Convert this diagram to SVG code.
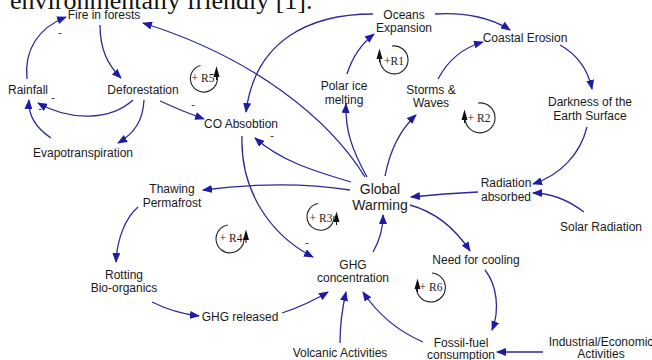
<svg xmlns="http://www.w3.org/2000/svg" width="652" height="360" viewBox="0 0 652 360">
<style>
  .lbl { font-family: "Liberation Sans", Arial, sans-serif; font-size: 12px; fill: #1a1a1a; text-anchor: middle; }
  .big { font-family: "Liberation Sans", Arial, sans-serif; font-size: 14px; fill: #1a1a1a; text-anchor: middle; }
  .sign { font-family: "Liberation Sans", Arial, sans-serif; font-size: 11px; fill: #1a1a1a; text-anchor: middle; }
  .loop { font-family: "Liberation Serif", "Times New Roman", serif; font-size: 11.5px; fill: #1a1a1a; text-anchor: middle; }
  .ring { fill: none; stroke: #222; stroke-width: 1.1; }
  .tip { fill: #111; }
  .edge { fill: none; stroke: #2a2a9c; stroke-width: 1.3; marker-end: url(#ah); }
</style>
<defs>
  <marker id="ah" viewBox="0 0 10 8" refX="9" refY="4" markerWidth="10" markerHeight="8" markerUnits="userSpaceOnUse" orient="auto">
    <path d="M0,0 L10,4 L0,8 Z" fill="#1c1ca8"/>
  </marker>
</defs>
<rect width="652" height="360" fill="#ffffff"/>
<text x="10" y="8.5" font-family="Liberation Serif, 'Times New Roman', serif" font-size="26" fill="#111">environmentally friendly [1].</text>

<g id="connectors">
  <path class="edge" d="M27,79 C24,50 38,28 66,17"/>
  <path class="edge" d="M100,25 C100,50 108,65 121,78"/>
  <path class="edge" d="M133,100 C110,121 70,121 38,103"/>
  <path class="edge" d="M144,100 C143,120 135,133 118,143"/>
  <path class="edge" d="M51,138 C36,128 28,115 29,100"/>
  <path class="edge" d="M160,101 C175,108 190,114 204,119"/>
  <path class="edge" d="M365,177 C330,120 255,58 143,23"/>
  <path class="edge" d="M373,14 C310,14 255,40 246,112"/>
  <path class="edge" d="M347,74 C352,58 360,45 374,34"/>
  <path class="edge" d="M435,14 C465,12 492,18 510,30"/>
  <path class="edge" d="M438,79 C448,60 462,48 483,42"/>
  <path class="edge" d="M560,45 C578,55 588,70 592,89"/>
  <path class="edge" d="M587,127 C580,155 560,175 533,184"/>
  <path class="edge" d="M584,212 C568,200 552,193 533,193"/>
  <path class="edge" d="M478,192 C455,193 430,195 411,197"/>
  <path class="edge" d="M410,205 C435,212 455,228 470,251"/>
  <path class="edge" d="M485,270 C497,285 500,310 492,330"/>
  <path class="edge" d="M543,352 L497,352"/>
  <path class="edge" d="M423,342 C395,330 375,310 363,292"/>
  <path class="edge" d="M340,343 C340,320 343,305 346,292"/>
  <path class="edge" d="M282,313 C300,307 315,300 328,292"/>
  <path class="edge" d="M152,302 C168,310 182,314 199,316"/>
  <path class="edge" d="M138,207 C125,218 117,240 116,262"/>
  <path class="edge" d="M350,190 C300,182 250,184 203,190"/>
  <path class="edge" d="M373,252 C380,240 383,228 383,215"/>
  <path class="edge" d="M242,136 C240,190 270,235 313,257"/>
  <path class="edge" d="M351,182 C310,170 280,160 255,138"/>
  <path class="edge" d="M367,177 C352,150 345,130 346,104"/>
  <path class="edge" d="M385,176 C390,150 400,130 416,115"/>
  <text class="sign" x="60" y="36">-</text>
  <text class="sign" x="53" y="101">-</text>
  <text class="sign" x="40" y="112">-</text>
  <text class="sign" x="193" y="108">-</text>
  <text class="sign" x="272" y="139">-</text>
  <text class="sign" x="307" y="246">-</text>
</g>

<g id="fire"><text class="lbl" x="104" y="19">Fire in forests</text></g>
<g id="rainfall"><text class="lbl" x="28" y="94">Rainfall</text></g>
<g id="deforestation"><text class="lbl" x="143" y="94">Deforestation</text></g>
<g id="evapotranspiration"><text class="lbl" x="83" y="157">Evapotranspiration</text></g>
<g id="co-absobtion"><text class="lbl" x="241" y="128">CO Absobtion</text></g>
<g id="oceans"><text class="lbl" x="404" y="19">Oceans</text><text class="lbl" x="404" y="32">Expansion</text></g>
<g id="polar"><text class="lbl" x="344" y="90">Polar ice</text><text class="lbl" x="344" y="104">melting</text></g>
<g id="storms"><text class="lbl" x="431" y="94">Storms &amp;</text><text class="lbl" x="431" y="107">Waves</text></g>
<g id="coastal"><text class="lbl" x="525" y="42">Coastal Erosion</text></g>
<g id="darkness"><text class="lbl" x="590" y="106">Darkness of the</text><text class="lbl" x="590" y="120">Earth Surface</text></g>
<g id="radiation"><text class="lbl" x="506" y="187">Radiation</text><text class="lbl" x="506" y="201">absorbed</text></g>
<g id="solar"><text class="lbl" x="601" y="231">Solar Radiation</text></g>
<g id="global-warming"><text class="big" x="380" y="194">Global</text><text class="big" x="380" y="210">Warming</text></g>
<g id="thawing"><text class="lbl" x="172" y="193">Thawing</text><text class="lbl" x="172" y="207">Permafrost</text></g>
<g id="rotting"><text class="lbl" x="124" y="279">Rotting</text><text class="lbl" x="124" y="292">Bio-organics</text></g>
<g id="ghg-released"><text class="lbl" x="240" y="321">GHG released</text></g>
<g id="ghg-concentration"><text class="lbl" x="353" y="269">GHG</text><text class="lbl" x="353" y="282">concentration</text></g>
<g id="need-cooling"><text class="lbl" x="476" y="264">Need for cooling</text></g>
<g id="fossil"><text class="lbl" x="461" y="347">Fossil-fuel</text><text class="lbl" x="461" y="359">consumption</text></g>
<g id="industrial"><text class="lbl" x="601" y="346">Industrial/Economic</text><text class="lbl" x="601" y="358">Activities</text></g>
<g id="volcanic"><text class="lbl" x="340" y="357">Volcanic Activities</text></g>

<g id="loop-r5">
  <path class="ring" d="M200.5,65.5 A13.5,13.5 0 1 0 217.3,77"/>
  <polygon class="tip" points="213.5,77 219.5,77 216.5,66"/>
  <line x1="216.5" y1="76" x2="216.5" y2="80" stroke="#111" stroke-width="1"/>
  <text class="loop" x="203" y="82">+ R5</text>
</g>
<g id="loop-r1">
  <path class="ring" d="M392,46 A14,14 0 1 1 380.1,58.5"/>
  <polygon class="tip" points="376.5,59 382.5,59 379.5,48.5"/>
  <line x1="379.5" y1="58" x2="379.5" y2="62" stroke="#111" stroke-width="1"/>
  <text class="loop" x="394" y="65">+R1</text>
</g>
<g id="loop-r2">
  <path class="ring" d="M478,103 A15,15 0 1 1 465.1,116.5"/>
  <polygon class="tip" points="461.5,120 467.5,120 464.5,109.5"/>
  <line x1="464.5" y1="119" x2="464.5" y2="123" stroke="#111" stroke-width="1"/>
  <text class="loop" x="479" y="122">+ R2</text>
</g>
<g id="loop-r3">
  <path class="ring" d="M318,203.5 A13.5,13.5 0 1 0 334,216"/>
  <polygon class="tip" points="333.5,222 339.5,222 336.5,211.5"/>
  <line x1="336.5" y1="221" x2="336.5" y2="225" stroke="#111" stroke-width="1"/>
  <text class="loop" x="321" y="221.5">+ R3</text>
</g>
<g id="loop-r4">
  <path class="ring" d="M228,225 A14,14 0 1 0 244,238"/>
  <polygon class="tip" points="243,240 249,240 246,229.5"/>
  <line x1="246" y1="239" x2="246" y2="243" stroke="#111" stroke-width="1"/>
  <text class="loop" x="231" y="242">+ R4</text>
</g>
<g id="loop-r6">
  <path class="ring" d="M432,273 A14.5,14.5 0 1 1 416.5,285.5"/>
  <polygon class="tip" points="414.5,289 420.5,289 417.5,278.5"/>
  <line x1="417.5" y1="288" x2="417.5" y2="292" stroke="#111" stroke-width="1"/>
  <text class="loop" x="431" y="291">+ R6</text>
</g>
</svg>
